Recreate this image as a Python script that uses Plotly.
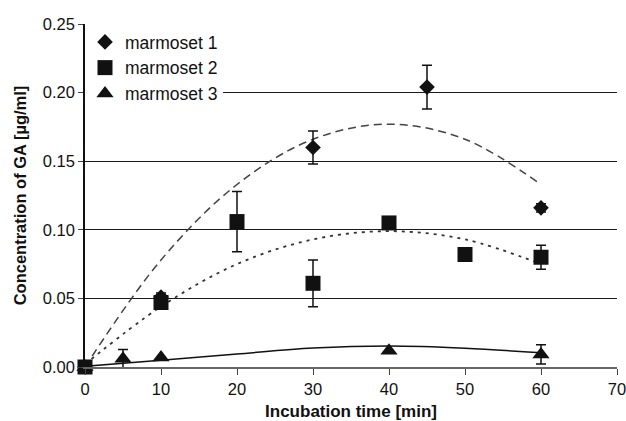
import plotly.graph_objects as go

# ---- data ----
time1 = [0, 10, 30, 45, 60]
m1 = [0.0, 0.051, 0.160, 0.204, 0.116]
m1_err = [0.0, 0.003, 0.012, 0.016, 0.003]

time2 = [0, 10, 20, 30, 40, 50, 60]
m2 = [0.0, 0.047, 0.106, 0.061, 0.105, 0.082, 0.080]
m2_err = [0.0, 0.002, 0.022, 0.017, 0.0, 0.0, 0.0087]

time3 = [0, 5, 10, 40, 60]
m3 = [0.0, 0.006, 0.007, 0.0118, 0.0092]
m3_err = [0.0, 0.0067, 0.0, 0.0, 0.0071]

# trend lines (polynomial fits as drawn in the reference, read at 10-min steps)
trend_x = [0, 10, 20, 30, 40, 50, 60]
trend1 = [0.0, 0.078, 0.133, 0.166, 0.177, 0.166, 0.133]
trend2 = [0.002, 0.044, 0.075, 0.093, 0.099, 0.093, 0.075]
trend3 = [0.0005, 0.005, 0.0095, 0.0138, 0.0153, 0.0137, 0.0103]

names = ["marmoset 1", "marmoset 2", "marmoset 3"]
x_ticks = [0, 10, 20, 30, 40, 50, 60, 70]
y_ticks = [0.00, 0.05, 0.10, 0.15, 0.20, 0.25]

FONT = "Liberation Sans, Arial, Helvetica, sans-serif"

fig = go.Figure()

# trend lines
fig.add_trace(go.Scatter(x=trend_x, y=trend1, mode="lines", showlegend=False,
                         line=dict(color="#444444", width=1.5, dash="8px,5px", shape="spline"),
                         hoverinfo="skip"))
fig.add_trace(go.Scatter(x=trend_x, y=trend2, mode="lines", showlegend=False,
                         line=dict(color="#333333", width=1.8, dash="3px,5px", shape="spline"),
                         hoverinfo="skip"))
fig.add_trace(go.Scatter(x=trend_x, y=trend3, mode="lines", showlegend=False,
                         line=dict(color="#111111", width=1.5, shape="spline"),
                         hoverinfo="skip"))

err_style = dict(type="data", visible=True, color="#111111", thickness=1.5, width=5)

fig.add_trace(go.Scatter(x=time1, y=m1, mode="markers", name=names[0], cliponaxis=False,
                         marker=dict(symbol="diamond", size=12, color="#111111"),
                         error_y=dict(array=m1_err, **err_style)))
fig.add_trace(go.Scatter(x=time2, y=m2, mode="markers", name=names[1], cliponaxis=False,
                         marker=dict(symbol="square", size=15, color="#111111"),
                         error_y=dict(array=m2_err, **err_style)))
fig.add_trace(go.Scatter(x=time3, y=m3, mode="markers", name=names[2], cliponaxis=False,
                         marker=dict(symbol="triangle-up", size=15, color="#111111"),
                         error_y=dict(array=m3_err, **err_style)))

fig.update_layout(
    width=626, height=421,
    margin=dict(l=85, r=9, t=24, b=53.5, autoexpand=False),
    paper_bgcolor="white", plot_bgcolor="white",
    font=dict(family=FONT, size=16, color="#111111"),
    legend=dict(x=0.0, y=1.0, xanchor="left", yanchor="top",
                bgcolor="white", borderwidth=0,
                font=dict(family=FONT, size=17.5, color="#111111"),
                tracegroupgap=0),
    xaxis=dict(range=[0, 70], tickvals=x_ticks, ticktext=[str(v) for v in x_ticks],
               showgrid=False, zeroline=False, automargin=False,
               ticklabeloverflow="allow",
               showline=True, linecolor="#666666", linewidth=1.5,
               ticks="outside", ticklen=6, tickcolor="#444444", tickwidth=1,
               tickfont=dict(size=16.5),
               title=dict(text="<b>Incubation time [min]</b>", font=dict(size=17), standoff=9)),
    yaxis=dict(range=[0, 0.25], tickvals=y_ticks, ticktext=[f"{v:.2f}" for v in y_ticks],
               showgrid=True, gridcolor="#1a1a1a", gridwidth=1, zeroline=False, automargin=False,
               ticklabeloverflow="allow",
               showline=True, linecolor="#111111", linewidth=1.5,
               ticks="outside", ticklen=5, tickcolor="#444444", tickwidth=1,
               tickfont=dict(size=16.5),
               title=dict(text="<b>Concentration of GA [µg/ml]</b>", font=dict(size=16.5), standoff=12)),
)

fig.write_html("out.html")
